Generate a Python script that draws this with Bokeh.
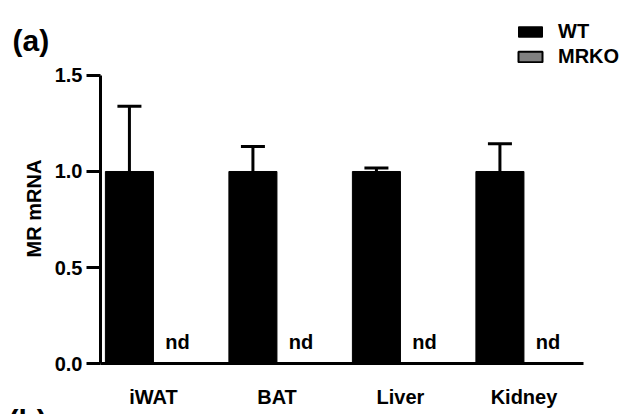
import math
import numpy as np
from bokeh.plotting import figure
from bokeh.models import (Range1d, FixedTicker, NumeralTickFormatter, Whisker, TeeHead,
                          ColumnDataSource, Label, Legend, LegendItem, LabelSet)
from bokeh.core.properties import value
from bokeh.embed import file_html
from bokeh.resources import INLINE

# ---- data ----
categories = ["iWAT", "BAT", "Liver", "Kidney"]
wt_mean = [1.0, 1.0, 1.0, 1.0]
wt_err = [0.34, 0.13, 0.018, 0.145]
mrko_mean = [0.0, 0.0, 0.0, 0.0]
mrko_text = ["nd", "nd", "nd", "nd"]
y_ticks = [0.0, 0.5, 1.0, 1.5]

FONT = "Liberation Sans"
INK = "black"
BAR_W = 0.389
OFF = 0.195

# ranges chosen so the frame fills the whole canvas; axes are pinned with fixed_location
X0, X1 = -0.2389, 4.8299
Y0, Y1 = -0.2656, 1.8906
Y_AXIS_X = 0.5708
X_AXIS_END = 4.4817

idx = np.arange(1, len(categories) + 1)
src = ColumnDataSource(dict(
    x_wt=idx - OFF, x_ko=idx + OFF,
    wt=wt_mean, ko=mrko_mean,
    upper=[m + e for m, e in zip(wt_mean, wt_err)],
    nd_y=[0.075] * len(categories), nd=mrko_text,
))

p = figure(width=626, height=414, output_backend="svg", toolbar_location=None,
           x_range=Range1d(X0, X1), y_range=Range1d(Y0, Y1),
           min_border_left=0, min_border_right=0, min_border_top=0, min_border_bottom=0)
p.title.visible = False
p.outline_line_color = None
p.xgrid.visible = False
p.ygrid.visible = False
p.background_fill_color = "white"
p.border_fill_color = "white"

r_wt = p.vbar(x="x_wt", top="wt", width=BAR_W, source=src, fill_color=INK, line_color=INK)
r_ko = p.vbar(x="x_ko", top="ko", width=BAR_W, source=src, fill_color="#808080",
              line_color=INK, line_width=2)

wh = Whisker(base="x_wt", lower="wt", upper="upper", source=src, dimension="height",
             line_width=3, line_color=INK, level="overlay",
             upper_head=TeeHead(size=24, line_width=3, line_color=INK), lower_head=None)
p.add_layout(wh)

nd = LabelSet(x="x_ko", y="nd_y", text="nd", source=src, text_align="center",
              text_baseline="alphabetic", text_font=value(FONT), text_font_style="bold",
              text_font_size="20px", text_color=INK)
p.add_layout(nd)

# axes
ya = p.yaxis[0]
ya.fixed_location = Y_AXIS_X
ya.ticker = FixedTicker(ticks=y_ticks)
ya.formatter = NumeralTickFormatter(format="0.0")
ya.bounds = (0, 1.5)
ya.axis_line_width = 3
ya.axis_line_color = INK
ya.major_tick_line_width = 3
ya.major_tick_line_color = INK
ya.major_tick_out = 14
ya.major_tick_in = 0
ya.minor_tick_line_color = None
ya.major_label_text_font = FONT
ya.major_label_text_font_style = "bold"
ya.major_label_text_font_size = "20px"
ya.major_label_text_color = INK
ya.major_label_standoff = 4

xa = p.xaxis[0]
xa.fixed_location = 0
xa.ticker = FixedTicker(ticks=list(idx))
xa.major_label_overrides = {int(i): c for i, c in zip(idx, categories)}
xa.bounds = (Y_AXIS_X, X_AXIS_END)
xa.axis_line_width = 3
xa.axis_line_color = INK
xa.major_tick_line_color = None
xa.major_tick_out = 0
xa.major_tick_in = 0
xa.minor_tick_line_color = None
xa.major_label_text_font = FONT
xa.major_label_text_font_style = "bold"
xa.major_label_text_font_size = "20px"
xa.major_label_text_color = INK
xa.major_label_standoff = 22

# y-axis title (placed as a rotated label, centred like the reference)
p.add_layout(Label(x=0.0364, y=0.807, text="MR mRNA", angle=math.pi / 2,
                   text_align="center", text_baseline="middle", text_font=FONT,
                   text_font_style="bold", text_font_size="20px", text_color=INK))

# legend
leg = Legend(items=[LegendItem(label="WT", renderers=[r_wt]),
                    LegendItem(label="MRKO", renderers=[r_ko])],
             location=(515, 346), orientation="vertical")
leg.glyph_width = 30
leg.glyph_height = 13
leg.label_standoff = 13
leg.spacing = 2
leg.padding = 0
leg.margin = 0
leg.border_line_color = None
leg.background_fill_alpha = 0
leg.label_text_font = FONT
leg.label_text_font_style = "bold"
leg.label_text_font_size = "20px"
leg.label_text_color = INK
p.add_layout(leg)

# panel labels
p.add_layout(Label(x=-0.142, y=1.682, text="(a)", text_font=FONT, text_font_style="bold",
                   text_font_size="30px", text_baseline="alphabetic", text_color=INK))
p.add_layout(Label(x=-0.174, y=-0.2135, text="(b)", text_font=FONT, text_font_style="bold",
                   text_font_size="30px", text_baseline="top", text_color=INK))

open("out.html", "w").write(file_html(p, INLINE))
